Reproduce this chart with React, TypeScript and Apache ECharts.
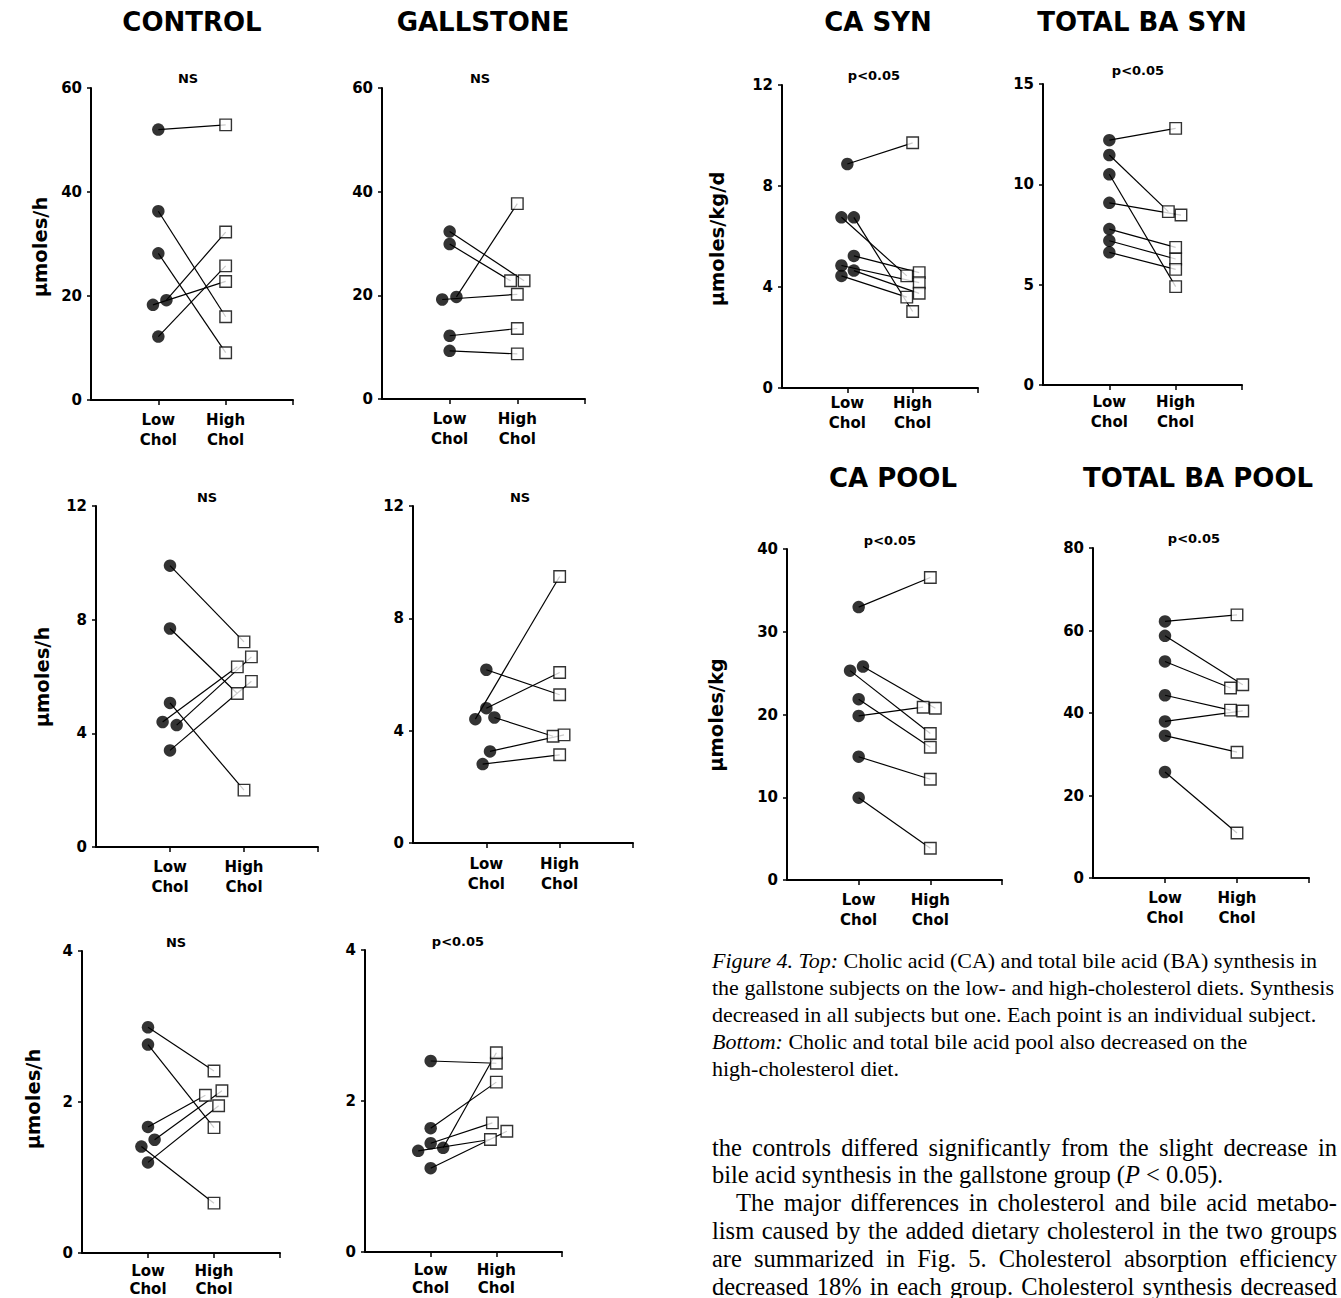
import React, { useEffect, useRef } from "react";
import * as echarts from "echarts";

// ---------------- DATA ----------------
const xCategoryLabels = ["Low\nChol", "High\nChol"];
const groupTitles = ["CONTROL", "GALLSTONE", "CA SYN", "TOTAL BA SYN", "CA POOL", "TOTAL BA POOL"];
const significance = ["NS", "NS", "NS", "NS", "NS", "p<0.05", "p<0.05", "p<0.05", "p<0.05", "p<0.05"];
const yUnitNames = ["µmoles/h", "µmoles/h", "µmoles/h", "µmoles/kg/d", "µmoles/kg"];
const yMax = [60, 60, 12, 12, 4, 4, 12, 15, 40, 80];
const yStep = [20, 20, 4, 4, 2, 2, 4, 5, 10, 20];

// Control, row 1
const ctrlR1Low = [52, 36.3, 28.2, 18.3, 19.2, 12.2];
const ctrlR1LowJit = [0, 0, 0, -0.08, 0.12, 0];
const ctrlR1High = [52.9, 16.0, 9.1, 22.8, 32.3, 25.8];
const ctrlR1HighJit = [0, 0, 0, 0, 0, 0];
// Gallstone, row 1
const gallR1Low = [32.3, 29.9, 19.2, 19.7, 12.2, 9.3];
const gallR1LowJit = [0, 0, -0.11, 0.1, 0, 0];
const gallR1High = [22.8, 22.8, 20.2, 37.7, 13.6, 8.7];
const gallR1HighJit = [0.1, -0.1, 0, 0, 0, 0];
// Control, row 2
const ctrlR2Low = [9.9, 7.69, 5.07, 4.4, 4.29, 3.4];
const ctrlR2LowJit = [0, 0, 0, -0.1, 0.09, 0];
const ctrlR2High = [7.22, 5.4, 2.0, 6.34, 6.69, 5.83];
const ctrlR2HighJit = [0, -0.09, 0, -0.09, 0.1, 0.1];
// Gallstone, row 2
const gallR2Low = [6.17, 4.8, 4.41, 4.47, 3.26, 2.81];
const gallR2LowJit = [0, 0, -0.15, 0.11, 0.05, -0.05];
const gallR2High = [5.28, 6.07, 9.49, 3.8, 3.85, 3.14];
const gallR2HighJit = [0, 0, 0, -0.09, 0.06, 0];
// Control, row 3
const ctrlR3Low = [2.99, 2.76, 1.67, 1.5, 1.41, 1.2];
const ctrlR3LowJit = [0, 0, 0, 0.1, -0.1, 0];
const ctrlR3High = [2.41, 1.66, 2.09, 2.15, 0.66, 1.95];
const ctrlR3HighJit = [0, 0, -0.13, 0.12, 0, 0.07];
// Gallstone, row 3
const gallR3Low = [2.53, 1.64, 1.44, 1.34, 1.38, 1.11];
const gallR3LowJit = [0, 0, 0, -0.19, 0.19, 0];
const gallR3High = [2.5, 2.25, 1.71, 1.49, 2.64, 1.6];
const gallR3HighJit = [0, 0, -0.06, -0.09, 0, 0.16];
// CA synthesis
const caSynLow = [8.87, 6.76, 6.76, 5.23, 4.85, 4.65, 4.44];
const caSynLowJit = [0, -0.09, 0.1, 0.1, -0.09, 0.1, -0.09];
const caSynHigh = [9.71, 4.44, 3.03, 4.57, 4.17, 3.75, 3.6];
const caSynHighJit = [0, -0.09, 0, 0.1, 0.1, 0.1, -0.09];
// Total BA synthesis
const baSynLow = [12.2, 11.46, 10.5, 9.08, 7.77, 7.19, 6.61];
const baSynLowJit = [0, 0, 0, 0, 0, 0, 0];
const baSynHigh = [12.79, 8.64, 4.9, 8.47, 6.86, 6.28, 5.76];
const baSynHighJit = [0, -0.11, 0, 0.08, 0, 0, 0];
// CA pool
const caPoolLow = [32.98, 25.3, 25.8, 21.85, 19.83, 14.9, 9.95];
const caPoolLowJit = [0, -0.12, 0.06, 0, 0, 0, 0];
const caPoolHigh = [36.56, 17.7, 20.76, 16.05, 20.88, 12.17, 3.83];
const caPoolHighJit = [0, 0, 0.07, 0, -0.1, 0, 0];
// Total BA pool
const baPoolLow = [62.2, 58.7, 52.5, 44.3, 37.96, 34.5, 25.7];
const baPoolLowJit = [0, 0, 0, 0, 0, 0, 0];
const baPoolHigh = [63.8, 46.86, 46.06, 40.7, 40.5, 30.5, 10.9];
const baPoolHighJit = [0, 0.08, -0.09, -0.09, 0.08, 0, 0];

const captionLines = [
  "{i|Figure 4. Top:} Cholic acid (CA) and total bile acid (BA) synthesis in",
  "the gallstone subjects on the low- and high-cholesterol diets. Synthesis",
  "decreased in all subjects but one. Each point is an individual subject.",
  "{i|Bottom:} Cholic and total bile acid pool also decreased on the",
  "high-cholesterol diet.",
];
const bodyLines = [
  "the controls differed significantly from the slight decrease in",
  "bile acid synthesis in the gallstone group ({i|P} < 0.05).",
  "The major differences in cholesterol and bile acid metabo-",
  "lism caused by the added dietary cholesterol in the two groups",
  "are summarized in Fig. 5. Cholesterol absorption efficiency",
  "decreased 18% in each group. Cholesterol synthesis decreased",
];
const bodyJustified = [true, false, true, true, true, true];
const bodyIndented = [false, false, true, false, false, false];

// ---------------- LAYOUT ----------------
const PANELS = [
  { low: ctrlR1Low, lowJ: ctrlR1LowJit, high: ctrlR1High, highJ: ctrlR1HighJit },
  { low: gallR1Low, lowJ: gallR1LowJit, high: gallR1High, highJ: gallR1HighJit },
  { low: ctrlR2Low, lowJ: ctrlR2LowJit, high: ctrlR2High, highJ: ctrlR2HighJit },
  { low: gallR2Low, lowJ: gallR2LowJit, high: gallR2High, highJ: gallR2HighJit },
  { low: ctrlR3Low, lowJ: ctrlR3LowJit, high: ctrlR3High, highJ: ctrlR3HighJit },
  { low: gallR3Low, lowJ: gallR3LowJit, high: gallR3High, highJ: gallR3HighJit },
  { low: caSynLow, lowJ: caSynLowJit, high: caSynHigh, highJ: caSynHighJit },
  { low: baSynLow, lowJ: baSynLowJit, high: baSynHigh, highJ: baSynHighJit },
  { low: caPoolLow, lowJ: caPoolLowJit, high: caPoolHigh, highJ: caPoolHighJit },
  { low: baPoolLow, lowJ: baPoolLowJit, high: baPoolHigh, highJ: baPoolHighJit },
];
const BOXES = [
  { left: 91, top: 88, width: 202, height: 312 },
  { left: 382, top: 88, width: 203, height: 311 },
  { left: 96, top: 506, width: 222, height: 341 },
  { left: 413, top: 506, width: 220, height: 337 },
  { left: 82, top: 951, width: 198, height: 302 },
  { left: 365, top: 950, width: 197, height: 302 },
  { left: 782, top: 85, width: 196, height: 303 },
  { left: 1043, top: 84, width: 199, height: 301 },
  { left: 787, top: 549, width: 215, height: 331 },
  { left: 1093, top: 548, width: 216, height: 330 },
];
const X_LABEL_MARGIN = [10, 10, 10, 11, 9, 9, 5, 7, 10, 10];
const X_LABEL_LH = [20, 20, 20, 20, 18, 18, 20, 20, 20, 20];
const NOTE_POS = [[188, 78], [480, 78], [207, 497], [520, 497], [176, 942], [458, 941], [874, 75], [1138, 70], [890, 540], [1194, 538]];
const TITLE_POS = [[192, 22], [483, 22], [878, 22], [1142, 22], [893, 478], [1198, 478]];
const UNIT_POS = [[40, 247], [42, 677], [33, 1099], [717, 239], [716, 715]];

const SANS = '"DejaVu Sans", sans-serif';
const SERIF = '"Liberation Serif", serif';
const CAP_LEFT = 712;
const CAP_Y0 = 960;
const CAP_LH = 27;
const CAP_SIZE = 22;
const BODY_LEFT = 712;
const BODY_RIGHT = 1337;
const BODY_Y0 = 1147;
const BODY_LH = 27.8;
const BODY_SIZE = 24.5;
const BODY_INDENT = 24;

function textEl(text: string, x: number, y: number, extra: any, rotation = 0) {
  return {
    type: "text",
    x,
    y,
    rotation,
    silent: true,
    style: { text, fill: "#000", align: "center", verticalAlign: "middle", ...extra },
  };
}

function buildTextGraphics(): any[] {
  const out: any[] = [];
  groupTitles.forEach((t, i) =>
    out.push(textEl(t, TITLE_POS[i][0], TITLE_POS[i][1], { fontFamily: SANS, fontWeight: "bold", fontSize: 26 }))
  );
  significance.forEach((t, i) =>
    out.push(textEl(t, NOTE_POS[i][0], NOTE_POS[i][1], { fontFamily: SANS, fontWeight: "bold", fontSize: 13 }))
  );
  yUnitNames.forEach((t, i) =>
    out.push(textEl(t, UNIT_POS[i][0], UNIT_POS[i][1], { fontFamily: SANS, fontWeight: "bold", fontSize: 19.5 }, Math.PI / 2))
  );
  captionLines.forEach((t, i) =>
    out.push(
      textEl(t, CAP_LEFT, CAP_Y0 + i * CAP_LH, {
        fontFamily: SERIF,
        fontSize: CAP_SIZE,
        align: "left",
        rich: { i: { fontFamily: SERIF, fontSize: CAP_SIZE, fontStyle: "italic", fill: "#000" } },
      })
    )
  );
  const canvas = document.createElement("canvas");
  const ctx = canvas.getContext("2d") as CanvasRenderingContext2D;
  ctx.font = `${BODY_SIZE}px "Liberation Serif"`;
  bodyLines.forEach((line, i) => {
    const y = BODY_Y0 + i * BODY_LH;
    const x0 = BODY_LEFT + (bodyIndented[i] ? BODY_INDENT : 0);
    if (!bodyJustified[i]) {
      out.push(
        textEl(line, x0, y, {
          fontFamily: SERIF,
          fontSize: BODY_SIZE,
          align: "left",
          rich: { i: { fontFamily: SERIF, fontSize: BODY_SIZE, fontStyle: "italic", fill: "#000" } },
        })
      );
      return;
    }
    const words = line.split(" ");
    const widths = words.map((w) => ctx.measureText(w).width);
    const total = widths.reduce((a, b) => a + b, 0);
    const gap = (BODY_RIGHT - x0 - total) / (words.length - 1);
    let x = x0;
    words.forEach((w, k) => {
      out.push(textEl(w, x, y, { fontFamily: SERIF, fontSize: BODY_SIZE, align: "left" }));
      x += widths[k] + gap;
    });
  });
  return out;
}

function buildOption(): any {
  const grid = BOXES.map((b) => ({ ...b, containLabel: false, outerBoundsMode: "none" }));
  const xAxis = BOXES.map((_, i) => ({
    gridIndex: i,
    type: "value",
    min: 0,
    max: 3,
    interval: 1,
    axisLine: { show: true, onZero: false, lineStyle: { color: "#000", width: 2 } },
    axisTick: { show: true, length: 5, customValues: [1, 2, 3], lineStyle: { color: "#000", width: 1.5 } },
    axisLabel: {
      show: true,
      customValues: [1, 2],
      formatter: (v: number) => (v === 1 ? xCategoryLabels[0] : v === 2 ? xCategoryLabels[1] : ""),
      fontFamily: SANS,
      fontWeight: "bold",
      fontSize: 15,
      lineHeight: X_LABEL_LH[i],
      color: "#000",
      margin: X_LABEL_MARGIN[i],
    },
    splitLine: { show: false },
  }));
  const yAxis = BOXES.map((_, i) => ({
    gridIndex: i,
    type: "value",
    min: 0,
    max: yMax[i],
    interval: yStep[i],
    axisLine: { show: true, onZero: false, lineStyle: { color: "#000", width: 2 } },
    axisTick: { show: true, length: 4, lineStyle: { color: "#000", width: 1.5 } },
    axisLabel: { fontFamily: SANS, fontWeight: "bold", fontSize: 15, color: "#000", margin: 9 },
    splitLine: { show: false },
  }));
  const series: any[] = [];
  PANELS.forEach((p, i) => {
    p.low.forEach((lv, j) => {
      series.push({
        type: "line",
        xAxisIndex: i,
        yAxisIndex: i,
        silent: true,
        z: 2,
        showSymbol: false,
        symbol: "none",
        lineStyle: { color: "#000", width: 1.2 },
        data: [
          [1 + p.lowJ[j], lv],
          [2 + p.highJ[j], p.high[j]],
        ],
      });
    });
    const pts: any[] = [];
    p.low.forEach((lv, j) =>
      pts.push({ value: [1 + p.lowJ[j], lv], symbol: "circle", symbolSize: 12.5, itemStyle: { color: "#000", borderColor: "#000", borderWidth: 0 } })
    );
    p.high.forEach((hv, j) =>
      pts.push({ value: [2 + p.highJ[j], hv], symbol: "rect", symbolSize: 11.5, itemStyle: { color: "#fff", borderColor: "#000", borderWidth: 1.4 } })
    );
    series.push({ type: "scatter", xAxisIndex: i, yAxisIndex: i, silent: true, z: 3, data: pts });
  });
  return {
    animation: false,
    backgroundColor: "#fff",
    grid,
    xAxis,
    yAxis,
    series,
    graphic: { elements: buildTextGraphics() },
  };
}

export default function App() {
  const ref = useRef<HTMLDivElement>(null);
  useEffect(() => {
    if (!ref.current) return;
    const chart = echarts.init(ref.current, undefined, { renderer: "svg" });
    chart.setOption(buildOption());
    return () => chart.dispose();
  }, []);
  return (
    <div
      ref={ref}
      style={{ position: "absolute", left: 0, top: 0, width: 1341, height: 1298, background: "#fff" }}
    />
  );
}
